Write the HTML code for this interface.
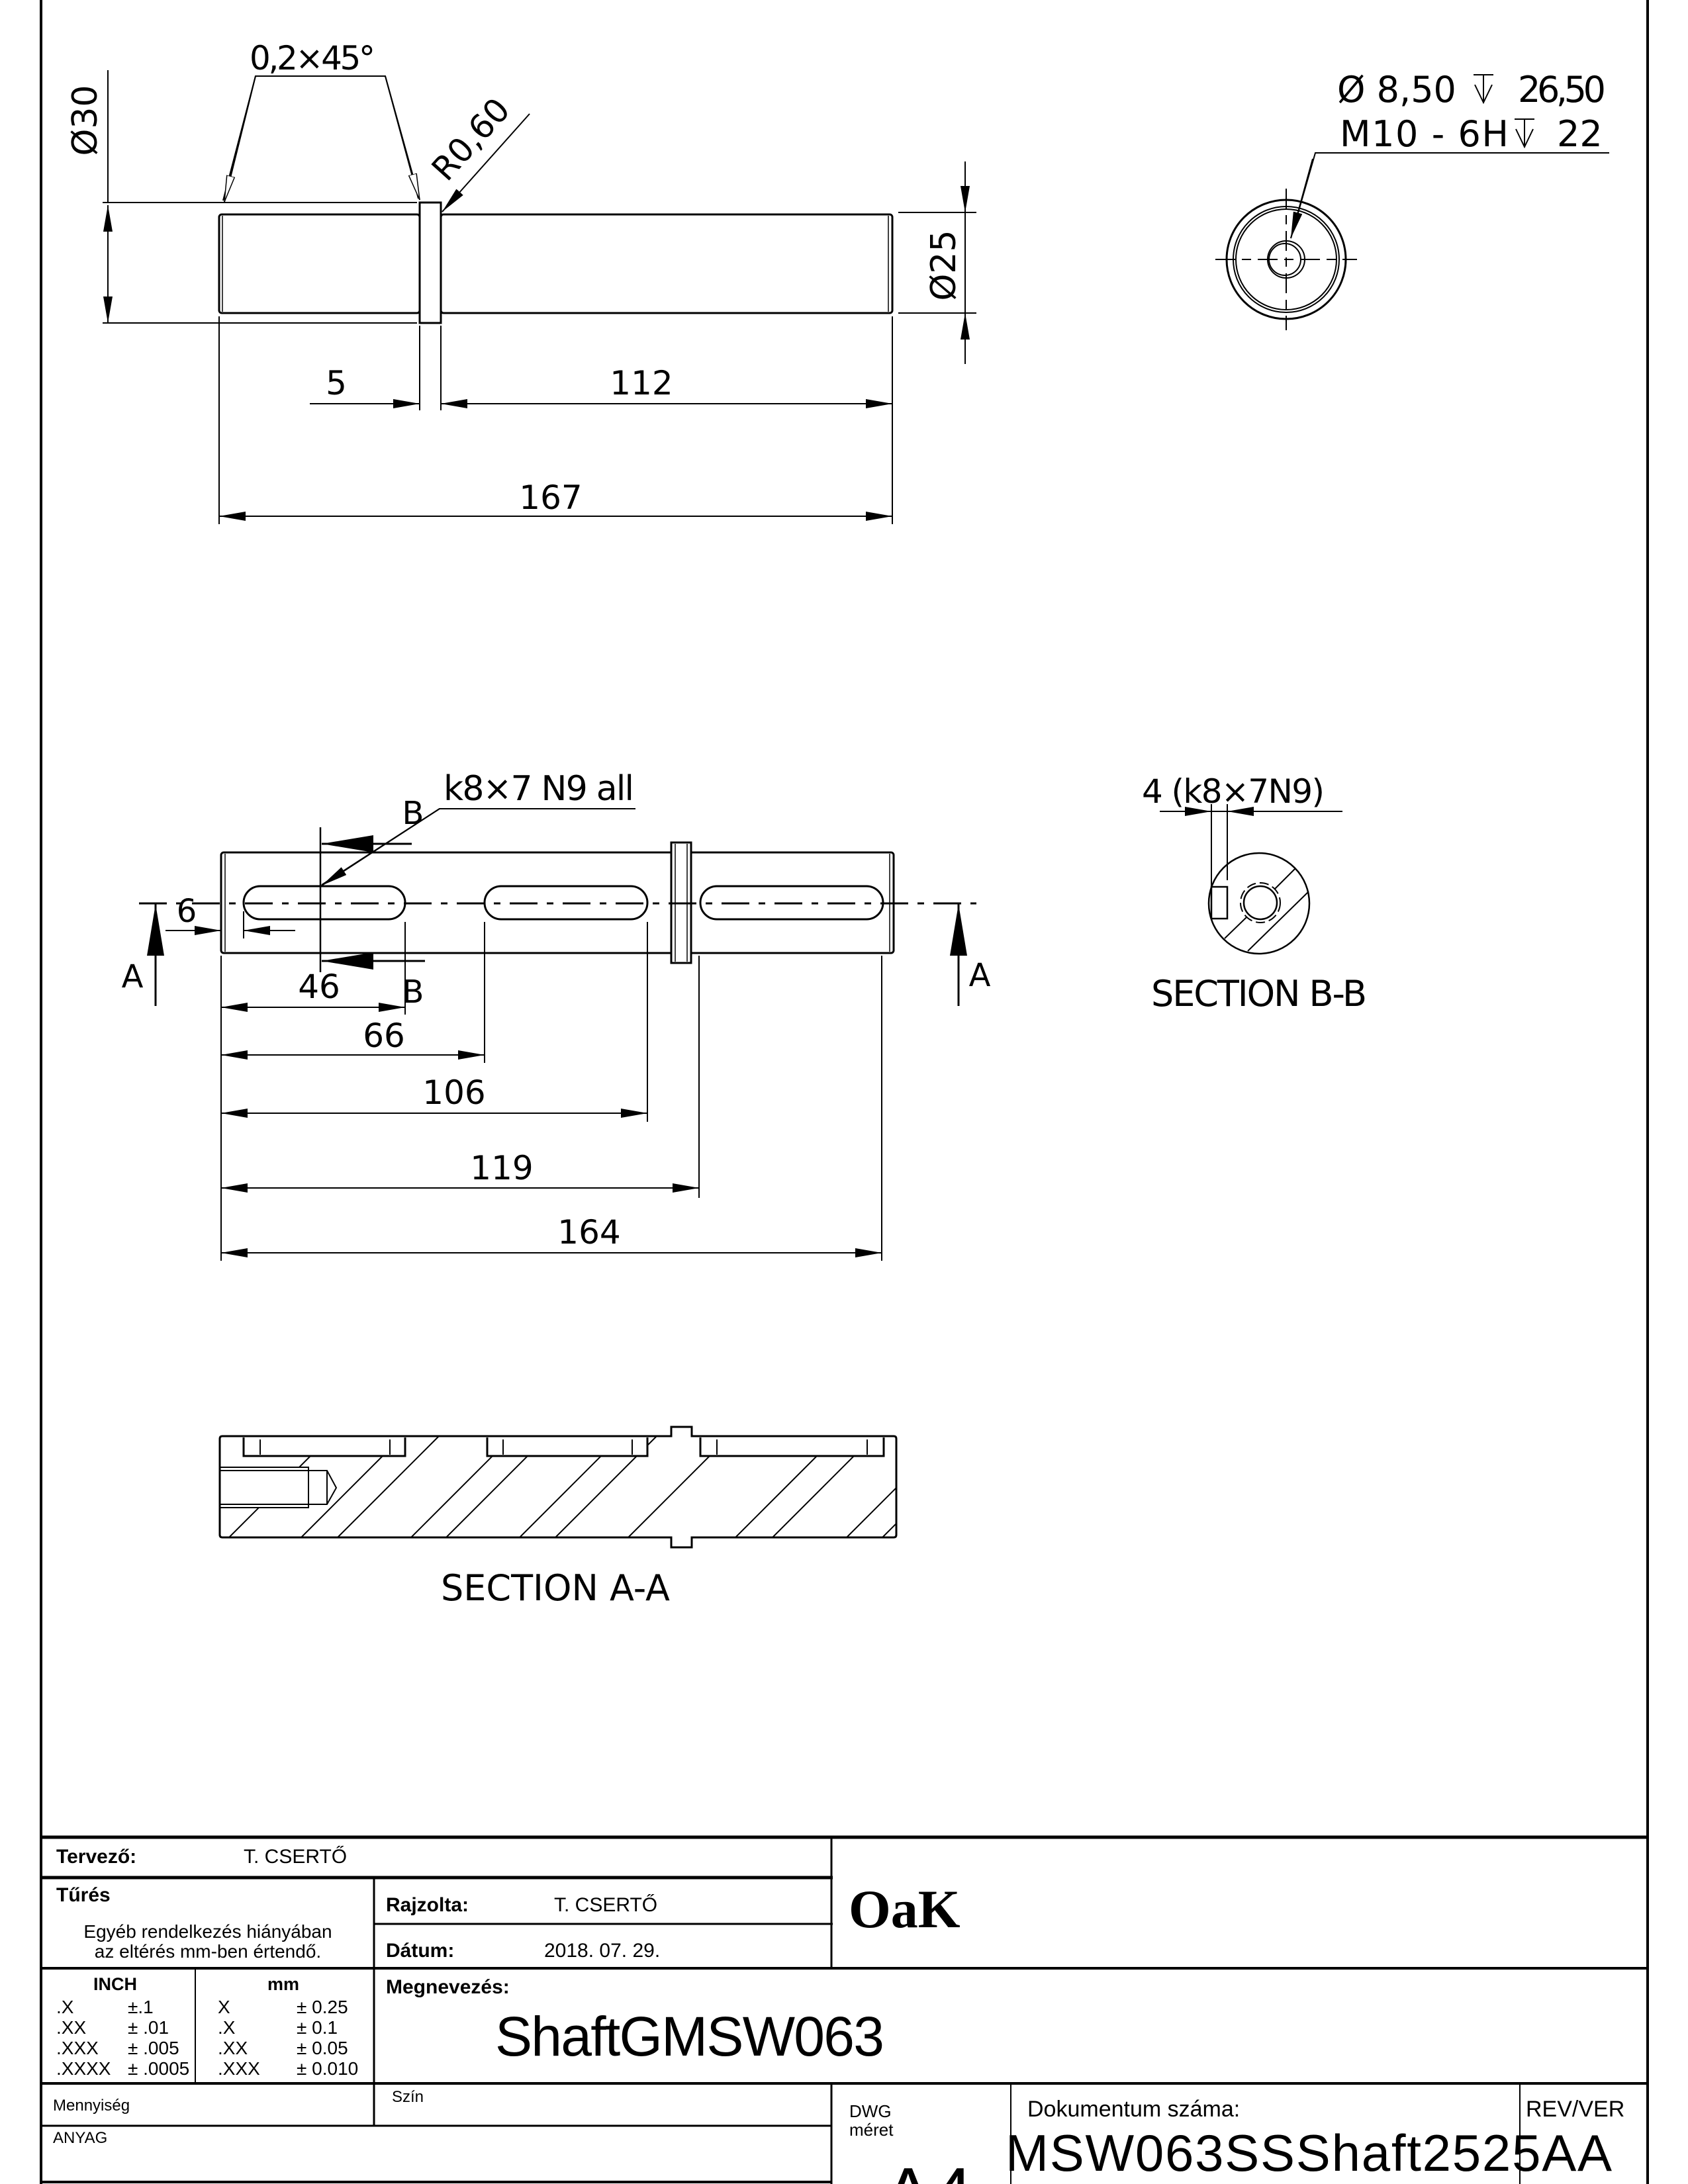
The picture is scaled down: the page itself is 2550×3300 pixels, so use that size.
<!DOCTYPE html>
<html><head><meta charset="utf-8">
<style>
html,body{margin:0;padding:0;background:#fff;}
svg{display:block;}
.d{font-family:"DejaVu Sans","Liberation Sans",sans-serif;fill:#000;font-weight:normal;}
.t{font-family:"Liberation Sans",Arial,sans-serif;fill:#000;}
.b{font-weight:bold;}
</style></head>
<body>
<svg width="2550" height="3300" viewBox="0 0 2550 3300" xmlns="http://www.w3.org/2000/svg">
<defs>
<marker id="ar" markerUnits="userSpaceOnUse" markerWidth="42" markerHeight="16" refX="40" refY="7" orient="auto-start-reverse"><path d="M0,0 L40,7 L0,14 z" fill="#000"/></marker>
<marker id="ao" markerUnits="userSpaceOnUse" markerWidth="44" markerHeight="16" refX="40" refY="7" orient="auto"><path d="M0,1 L40,7 L0,13 z" fill="#fff" stroke="#000" stroke-width="1.5"/></marker>
<marker id="big" markerUnits="userSpaceOnUse" markerWidth="80" markerHeight="30" refX="78" refY="13" orient="auto"><path d="M0,0 L78,13 L0,26 z" fill="#000"/></marker>
<clipPath id="hc"><path clip-rule="evenodd" d="M332,2170 H1354 V2323 H332 Z M368,2168 H612 V2200 H368 Z M736,2168 H978 V2200 H736 Z M1058,2168 H1335 V2200 H1058 Z M330,2217 H466 V2278 H330 Z"/></clipPath>
</defs>

<!-- frame -->
<g stroke="#000" fill="none">
<line x1="62" y1="0" x2="62" y2="3300" stroke-width="4"/>
<line x1="2489" y1="0" x2="2489" y2="3300" stroke-width="4"/>
</g>

<!-- ===== TOP VIEW ===== -->
<g stroke="#000" fill="none" stroke-width="3">
<rect x="331" y="324" width="303" height="149" rx="4"/>
<rect x="634" y="306" width="32" height="182"/>
<rect x="666" y="324" width="682" height="149" rx="4"/>
<line x1="1342" y1="326" x2="1342" y2="471" stroke-width="1.5"/>
<line x1="336" y1="326" x2="336" y2="471" stroke-width="1.5"/>
</g>
<g stroke="#000" fill="none" stroke-width="2">
<line x1="155" y1="306" x2="630" y2="306"/>
<line x1="155" y1="488" x2="630" y2="488"/>
<line x1="163" y1="106" x2="163" y2="306" />
<line x1="163" y1="310" x2="163" y2="488" marker-start="url(#ar)" marker-end="url(#ar)"/>
<line x1="1357" y1="321" x2="1475" y2="321"/>
<line x1="1357" y1="473" x2="1475" y2="473"/>
<line x1="1458" y1="244" x2="1458" y2="321" marker-end="url(#ar)"/>
<line x1="1458" y1="550" x2="1458" y2="473" marker-end="url(#ar)"/>
<line x1="1458" y1="321" x2="1458" y2="473"/>
<line x1="634" y1="492" x2="634" y2="620"/>
<line x1="666" y1="492" x2="666" y2="620"/>
<line x1="331" y1="478" x2="331" y2="792"/>
<line x1="1348" y1="478" x2="1348" y2="792"/>
<line x1="468" y1="610" x2="634" y2="610" marker-end="url(#ar)"/>
<line x1="666" y1="610" x2="1348" y2="610" marker-start="url(#ar)" marker-end="url(#ar)"/>
<line x1="331" y1="780" x2="1348" y2="780" marker-start="url(#ar)" marker-end="url(#ar)"/>
<polyline points="337,303 386,115 582,115 632,300"/>
<line x1="386" y1="115" x2="339" y2="305" marker-end="url(#ao)"/>
<line x1="582" y1="115" x2="634" y2="302" marker-end="url(#ao)"/>
<line x1="800" y1="172" x2="668" y2="320" marker-end="url(#ar)"/>
</g>
<text class="d" x="472" y="105" font-size="50" text-anchor="middle" textLength="190">0,2×45°</text>
<text class="d" font-size="52" text-anchor="middle" transform="translate(146,182) rotate(-90)">Ø30</text>
<text class="d" font-size="52" text-anchor="middle" transform="translate(1443,401) rotate(-90)">Ø25</text>
<text class="d" font-size="50" text-anchor="middle" transform="translate(724,222) rotate(-48)">R0,60</text>
<text class="d" x="508" y="596" font-size="50" text-anchor="middle">5</text>
<text class="d" x="969" y="596" font-size="50" text-anchor="middle">112</text>
<text class="d" x="832" y="769" font-size="50" text-anchor="middle">167</text>

<!-- ===== END VIEW ===== -->
<g stroke="#000" fill="none">
<circle cx="1943" cy="392" r="90" stroke-width="3"/>
<circle cx="1943" cy="392" r="80" stroke-width="2"/>
<circle cx="1943" cy="392" r="76" stroke-width="2"/>
<circle cx="1943" cy="392" r="28" stroke-width="2"/>
<circle cx="1941" cy="392" r="24" stroke-width="2"/>
<line x1="1836" y1="392" x2="2050" y2="392" stroke-width="2" stroke-dasharray="30,10,14,10"/>
<line x1="1943" y1="285" x2="1943" y2="499" stroke-width="2" stroke-dasharray="30,10,14,10"/>
<polyline points="2431,231 1987,231 1950,360" stroke-width="2"/>
<line x1="1983" y1="240" x2="1950" y2="360" stroke-width="2" marker-end="url(#ar)"/>
</g>
<text class="d" x="2020" y="154" font-size="54">Ø 8,50</text>
<text class="d" x="2293" y="154" font-size="54" textLength="133">26,50</text>
<text class="d" x="2024" y="221" font-size="54" textLength="255">M10 - 6H</text>
<text class="d" x="2352" y="221" font-size="54">22</text>
<g stroke="#000" fill="none" stroke-width="2">
<line x1="2226" y1="113" x2="2256" y2="113"/><line x1="2241" y1="113" x2="2241" y2="155"/><polyline points="2228,128 2241,155 2254,128"/>
<line x1="2288" y1="180" x2="2318" y2="180"/><line x1="2303" y1="180" x2="2303" y2="222"/><polyline points="2290,195 2303,222 2316,195"/>
</g>

<!-- ===== MIDDLE VIEW ===== -->
<g stroke="#000" fill="none" stroke-width="3">
<rect x="334" y="1288" width="1016" height="152" rx="4"/>
<rect x="1014" y="1273" width="30" height="182" fill="#fff"/>
<rect x="368" y="1339" width="244" height="50" rx="25"/>
<rect x="732" y="1339" width="246" height="50" rx="25"/>
<rect x="1058" y="1339" width="276" height="50" rx="25"/>
</g>
<g stroke="#000" fill="none" stroke-width="2">
<line x1="340" y1="1290" x2="340" y2="1438" stroke-width="1.5"/>
<line x1="1344" y1="1290" x2="1344" y2="1438" stroke-width="1.5"/>
<line x1="1020" y1="1275" x2="1020" y2="1453" stroke-width="1.5"/>
<line x1="1038" y1="1275" x2="1038" y2="1453" stroke-width="1.5"/>
<line x1="210" y1="1365" x2="1475" y2="1365" stroke-width="3" stroke-dasharray="42,14,10,14"/>
<line x1="484" y1="1250" x2="484" y2="1469" stroke-width="2.5"/>
<line x1="622" y1="1275" x2="486" y2="1275" stroke-width="3" marker-end="url(#big)"/>
<line x1="642" y1="1452" x2="486" y2="1452" stroke-width="3" marker-end="url(#big)"/>
<polyline points="960,1222 664,1222 486,1337"/>
<line x1="664" y1="1222" x2="486" y2="1338" marker-end="url(#ar)"/>
<line x1="235" y1="1520" x2="235" y2="1366" stroke-width="3" marker-end="url(#big)"/>
<line x1="1448" y1="1520" x2="1448" y2="1366" stroke-width="3" marker-end="url(#big)"/>
<line x1="250" y1="1406" x2="334" y2="1406" marker-end="url(#ar)"/>
<line x1="446" y1="1406" x2="368" y2="1406" marker-end="url(#ar)"/>
<line x1="368" y1="1377" x2="368" y2="1418"/>
<line x1="334" y1="1444" x2="334" y2="1905"/>
<line x1="612" y1="1393" x2="612" y2="1533"/>
<line x1="732" y1="1393" x2="732" y2="1606"/>
<line x1="978" y1="1393" x2="978" y2="1695"/>
<line x1="1056" y1="1444" x2="1056" y2="1810"/>
<line x1="1332" y1="1444" x2="1332" y2="1905"/>
<line x1="334" y1="1522" x2="612" y2="1522" marker-start="url(#ar)" marker-end="url(#ar)"/>
<line x1="334" y1="1594" x2="732" y2="1594" marker-start="url(#ar)" marker-end="url(#ar)"/>
<line x1="334" y1="1682" x2="978" y2="1682" marker-start="url(#ar)" marker-end="url(#ar)"/>
<line x1="334" y1="1795" x2="1056" y2="1795" marker-start="url(#ar)" marker-end="url(#ar)"/>
<line x1="334" y1="1893" x2="1332" y2="1893" marker-start="url(#ar)" marker-end="url(#ar)"/>
</g>
<text class="d" x="670" y="1209" font-size="52" textLength="288">k8×7 N9 all</text>
<text class="d" x="624" y="1245" font-size="48" text-anchor="middle">B</text>
<text class="d" x="624" y="1515" font-size="48" text-anchor="middle">B</text>
<text class="d" x="200" y="1492" font-size="48" text-anchor="middle">A</text>
<text class="d" x="1480" y="1490" font-size="48" text-anchor="middle">A</text>
<text class="d" x="282" y="1393" font-size="48" text-anchor="middle">6</text>
<text class="d" x="482" y="1508" font-size="50" text-anchor="middle">46</text>
<text class="d" x="580" y="1582" font-size="50" text-anchor="middle">66</text>
<text class="d" x="686" y="1668" font-size="50" text-anchor="middle">106</text>
<text class="d" x="758" y="1782" font-size="50" text-anchor="middle">119</text>
<text class="d" x="890" y="1879" font-size="50" text-anchor="middle">164</text>

<!-- ===== SECTION B-B ===== -->
<g stroke="#000" fill="none" stroke-width="2.5">
<circle cx="1902" cy="1365" r="76"/>
<circle cx="1904" cy="1364" r="25"/>
<circle cx="1904" cy="1364" r="30" stroke-dasharray="14,6" stroke-width="2"/>
<rect x="1830" y="1340" width="24" height="48"/>
<line x1="1830" y1="1215" x2="1830" y2="1340" stroke-width="2"/>
<line x1="1854" y1="1215" x2="1854" y2="1330" stroke-width="2"/>
<line x1="1752" y1="1226" x2="2028" y2="1226" stroke-width="2"/>
<line x1="1789" y1="1226" x2="1830" y2="1226" stroke-width="2" marker-end="url(#ar)"/>
<line x1="1895" y1="1226" x2="1854" y2="1226" stroke-width="2" marker-end="url(#ar)"/>
<line x1="1957" y1="1312" x2="1925" y2="1344" stroke-width="2"/>
<line x1="1883" y1="1386" x2="1850" y2="1418" stroke-width="2"/>
<line x1="1977" y1="1347" x2="1885" y2="1437" stroke-width="2"/>
</g>
<text class="d" x="1725" y="1213" font-size="50" textLength="276">4 (k8×7N9)</text>
<text class="d" x="1739" y="1520" font-size="54" textLength="326">SECTION B-B</text>

<!-- ===== SECTION A-A ===== -->
<g stroke="#000" fill="none" stroke-width="3">
<path d="M336,2170 H1014 V2156 H1045 V2170 H1350 Q1354,2170 1354,2174 V2319 Q1354,2323 1350,2323 H1045 V2338 H1014 V2323 H336 Q332,2323 332,2319 V2174 Q332,2170 336,2170"/>
<path d="M368,2172 V2200 H612 V2172 M736,2172 V2200 H978 V2172 M1058,2172 V2200 H1335 V2172"/>
<path d="M332,2217 H466 V2278 H332 M332,2222 H494 L508,2248 L494,2273 H332 M494,2222 V2273" stroke-width="2"/>
<path d="M393,2175 V2198 M589,2175 V2198 M760,2175 V2198 M955,2175 V2198 M1083,2175 V2198 M1310,2175 V2198" stroke-width="2"/>
</g>
<g clip-path="url(#hc)" stroke="#000" stroke-width="2">
<line x1="346" y1="2323" x2="499" y2="2170"/>
<line x1="455" y1="2323" x2="608" y2="2170"/>
<line x1="510" y1="2323" x2="663" y2="2170"/>
<line x1="621" y1="2323" x2="774" y2="2170"/>
<line x1="674" y1="2323" x2="827" y2="2170"/>
<line x1="785" y1="2323" x2="938" y2="2170"/>
<line x1="839" y1="2323" x2="992" y2="2170"/>
<line x1="949" y1="2323" x2="1102" y2="2170"/>
<line x1="1111" y1="2323" x2="1264" y2="2170"/>
<line x1="1167" y1="2323" x2="1320" y2="2170"/>
<line x1="1279" y1="2323" x2="1432" y2="2170"/>
<line x1="1333" y1="2323" x2="1486" y2="2170"/>
</g>
<text class="d" x="666" y="2418" font-size="54" textLength="346">SECTION A-A</text>

<!-- ===== TITLE BLOCK ===== -->
<g stroke="#000" fill="none">
<line x1="62" y1="2776" x2="2489" y2="2776" stroke-width="5"/>
<line x1="62" y1="2837" x2="1258" y2="2837" stroke-width="5"/>
<line x1="565" y1="2837" x2="565" y2="3212" stroke-width="3"/>
<line x1="565" y1="2907" x2="1258" y2="2907" stroke-width="3"/>
<line x1="1256" y1="2776" x2="1256" y2="2974" stroke-width="3"/>
<line x1="62" y1="2974" x2="2489" y2="2974" stroke-width="4"/>
<line x1="295" y1="2974" x2="295" y2="3148" stroke-width="2"/>
<line x1="62" y1="3148" x2="2489" y2="3148" stroke-width="4"/>
<line x1="1256" y1="3148" x2="1256" y2="3300" stroke-width="3"/>
<line x1="1527" y1="3148" x2="1527" y2="3300" stroke-width="2"/>
<line x1="2296" y1="3148" x2="2296" y2="3300" stroke-width="2"/>
<line x1="62" y1="3212" x2="1256" y2="3212" stroke-width="3"/>
<line x1="62" y1="3297" x2="1256" y2="3297" stroke-width="4"/>
</g>
<text class="t b" x="85" y="2815" font-size="30">Tervező:</text>
<text class="t" x="368" y="2815" font-size="30">T. CSERTŐ</text>
<text class="t b" x="85" y="2873" font-size="30">Tűrés</text>
<text class="t" x="314" y="2928" font-size="28" text-anchor="middle">Egyéb rendelkezés hiányában</text>
<text class="t" x="314" y="2958" font-size="28" text-anchor="middle">az eltérés mm-ben értendő.</text>
<text class="t b" x="583" y="2888" font-size="30">Rajzolta:</text>
<text class="t" x="837" y="2888" font-size="30">T. CSERTŐ</text>
<text class="t b" x="583" y="2957" font-size="30">Dátum:</text>
<text class="t" x="822" y="2957" font-size="30">2018. 07. 29.</text>
<text x="1282" y="2912" font-size="82" font-family="'Liberation Serif',serif" font-weight="bold">OaK</text>
<text class="t b" x="174" y="3007" font-size="27" text-anchor="middle">INCH</text>
<text class="t b" x="428" y="3007" font-size="27" text-anchor="middle">mm</text>
<text class="t b" x="583" y="3012" font-size="30">Megnevezés:</text>
<g class="t" font-size="28">
<text x="85" y="3042">.X</text><text x="193" y="3042">±.1</text>
<text x="85" y="3073">.XX</text><text x="193" y="3073">± .01</text>
<text x="85" y="3104">.XXX</text><text x="193" y="3104">± .005</text>
<text x="85" y="3135">.XXXX</text><text x="193" y="3135">± .0005</text>
<text x="329" y="3042">X</text><text x="448" y="3042">± 0.25</text>
<text x="329" y="3073">.X</text><text x="448" y="3073">± 0.1</text>
<text x="329" y="3104">.XX</text><text x="448" y="3104">± 0.05</text>
<text x="329" y="3135">.XXX</text><text x="448" y="3135">± 0.010</text>
</g>
<text class="t" x="748" y="3106" font-size="84" textLength="588">ShaftGMSW063</text>
<text class="t" x="80" y="3189" font-size="24">Mennyiség</text>
<text class="t" x="592" y="3176" font-size="24">Szín</text>
<text class="t" x="80" y="3238" font-size="24">ANYAG</text>
<text class="t" x="1283" y="3199" font-size="26">DWG</text>
<text class="t" x="1283" y="3227" font-size="26">méret</text>
<text class="t" x="1335" y="3352" font-size="110">A4</text>
<text class="t" x="1552" y="3198" font-size="34">Dokumentum száma:</text>
<text class="t" x="2305" y="3198" font-size="34">REV/VER</text>
<text class="t" x="1519" y="3280" font-size="78" textLength="916">MSW063SSShaft2525AA</text>
</svg>
</body></html>
